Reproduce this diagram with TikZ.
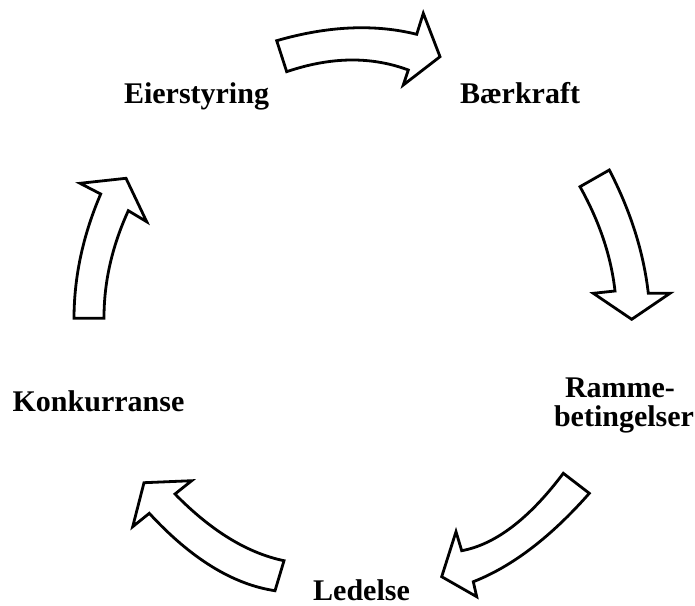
\documentclass[tikz,border=0pt]{standalone}
\usepackage{fontspec}
\setmainfont{Liberation Serif}
\begin{document}
\begin{tikzpicture}[x=0.5pt,y=-0.5pt,
  blockarrow/.style={draw=black,fill=white,line width=1.4pt,line join=miter},
  label/.style={font=\fontsize{15}{18}\selectfont\bfseries,inner sep=0pt,anchor=base}]
\useasboundingbox (0,0) rectangle (695,605);

% curved block arrows of the cycle
\path[blockarrow] (276.7,40.7) .. controls (327.8,25.9) and (374.4,23.8) .. (416.7,34.3)
  -- (423.3,13.3) -- (440,56.7) -- (403.3,85) -- (408.3,70)
  .. controls (371.1,56.1) and (330.6,56.7) .. (286.7,71.7) -- cycle;

\path[blockarrow] (580,186.7) -- (609.3,170)
  .. controls (630.6,211.1) and (643.6,252.2) .. (648.3,293.3)
  -- (670,293.3) -- (631.7,319.3) -- (593.3,293.3) -- (615,291)
  .. controls (611.1,256.2) and (599.4,221.4) .. (580,186.7) -- cycle;

\path[blockarrow] (563.3,473.3) -- (589.3,493.3)
  .. controls (550.6,537.2) and (512,566.6) .. (473.3,581.7)
  -- (476.7,596.7) -- (441.7,576.7) -- (456,531.7) -- (461.7,550.7)
  .. controls (495.3,544.5) and (529.2,518.7) .. (563.3,473.3) -- cycle;

\path[blockarrow] (275,590.7) -- (284,560.7)
  .. controls (247.4,553.1) and (211.1,530.9) .. (175,494)
  -- (191.7,480.7) -- (144,482.7) -- (132.7,526.7) -- (149.3,513.3)
  .. controls (191,558.6) and (232.9,584.4) .. (275,590.7) -- cycle;

\path[blockarrow] (74,318.3) -- (104,318.3)
  .. controls (103.9,282.2) and (112,246.4) .. (128.3,210.7)
  -- (146.7,221.7) -- (126,178.3) -- (80,183.3) -- (100.7,194)
  .. controls (83,235.2) and (74.1,276.6) .. (74,318.3) -- cycle;

% stage labels
\node[label] (eier) at (196.5,103.3) {Eierstyring};
\node[label] (baer) at (520,103.3) {Bærkraft};
\node[label] (ramme) at (620,397.3) {Ramme-};
\node[label] (betingelser) at (624,426.7) {betingelser};
\node[label] (led) at (361.5,600) {Ledelse};
\node[label] (konk) at (98.5,411.7) {Konkurranse};
\end{tikzpicture}
\end{document}
